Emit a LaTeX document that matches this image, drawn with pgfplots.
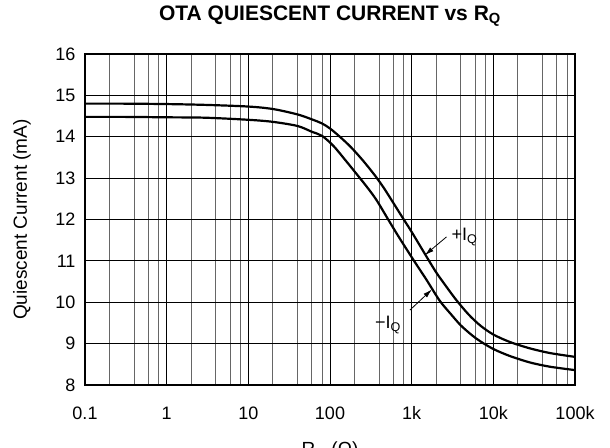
\documentclass[border=0pt]{standalone}
\usepackage{pgfplots}
\pgfplotsset{compat=1.18}
\usepackage{fontspec}
\setmainfont{Liberation Sans}
\usetikzlibrary{arrows.meta}

\pgfplotstableread{
x y
0.1 14.80
0.3 14.80
1 14.79
3 14.77
10 14.73
20 14.67
40 14.54
60 14.42
80 14.32
100 14.20
132 14.00
180 13.75
252 13.43
350 13.08
450 12.78
567 12.47
800 12.00
1000 11.70
1600 11.03
2000 10.72
2500 10.45
3500 10.06
5000 9.70
7000 9.43
10000 9.22
15000 9.06
21000 8.96
30000 8.87
50000 8.77
100000 8.68
}\uppertab

\pgfplotstableread{
x y
0.1 14.48
0.3 14.48
1 14.47
3 14.46
10 14.41
20 14.36
40 14.26
60 14.12
80 14.02
110 13.78
152 13.45
200 13.16
280 12.80
371 12.47
516 12.00
700 11.57
1070 11.00
1500 10.56
2200 10.04
3000 9.72
4000 9.44
5500 9.20
7000 9.05
10000 8.87
15000 8.72
21000 8.62
30000 8.53
50000 8.44
100000 8.36
}\lowertab

\begin{document}
\begin{tikzpicture}
\begin{axis}[
  xmode=log, log basis x=10,
  scale only axis, width=490bp, height=331bp,
  xmin=0.1, xmax=100000, ymin=8, ymax=16,
  xtick={0.1,1,10,100,1000,10000,100000},
  xticklabels={0.1,1,10,100,1k,10k,100k},
  minor xtick={0.2,0.4,0.6,0.8,2,4,6,8,20,40,60,80,200,400,600,800,2000,4000,6000,8000,20000,40000,60000,80000},
  ytick={8,9,...,16},
  grid=both,
  major grid style={black, line width=0.9bp},
  minor grid style={black!60, line width=0.9bp},
  major tick length=0pt, minor tick length=0pt,
  axis line style={line width=2bp},
  /pgf/number format/assume math mode=true,
  ticklabel style={font=\fontsize{18bp}{20bp}\selectfont},
  xticklabel style={anchor=base, yshift=-34bp},
  yticklabel style={anchor=east, xshift=-6bp},
  title={\bfseries OTA QUIESCENT CURRENT vs R\textsubscript{Q}},
  title style={font=\fontsize{21bp}{23bp}\selectfont, at={(axis description cs:0.5,1)}, anchor=base, yshift=28bp},
  ylabel={Quiescent Current (mA)},
  ylabel style={font=\fontsize{19bp}{21bp}\selectfont, at={(axis description cs:-0.1286,0.5)}, anchor=center},
  xlabel={R\textsubscript{Q} (Ω)},
  xlabel style={font=\fontsize{19bp}{21bp}\selectfont, at={(axis description cs:0.5,-0.2115)}, anchor=base},
]
\addplot[black, line width=2.2bp, smooth] table[x=x,y=y] {\uppertab};
\addplot[black, line width=2.2bp, smooth] table[x=x,y=y] {\lowertab};
\draw[line width=0.8bp, -{Latex[length=9bp,width=5bp]}] (axis cs:2670,11.58) -- (axis cs:1450,11.14);
\draw[line width=0.8bp, -{Latex[length=9bp,width=5bp]}] (axis cs:951,9.81) -- (axis cs:1770,10.31);
\node[anchor=base west, inner sep=0pt, font=\fontsize{18bp}{20bp}\selectfont] at (axis cs:3077,11.49) {+I\textsubscript{Q}};
\node[anchor=base west, inner sep=0pt, font=\fontsize{18bp}{20bp}\selectfont] at (axis cs:354,9.37) {−I\textsubscript{Q}};
\end{axis}
\pgfresetboundingbox
\path[use as bounding box] ([shift={(-85bp,-62bp)}]current axis.south west) rectangle ([shift={(35bp,54bp)}]current axis.north east);
\end{tikzpicture}
\end{document}
